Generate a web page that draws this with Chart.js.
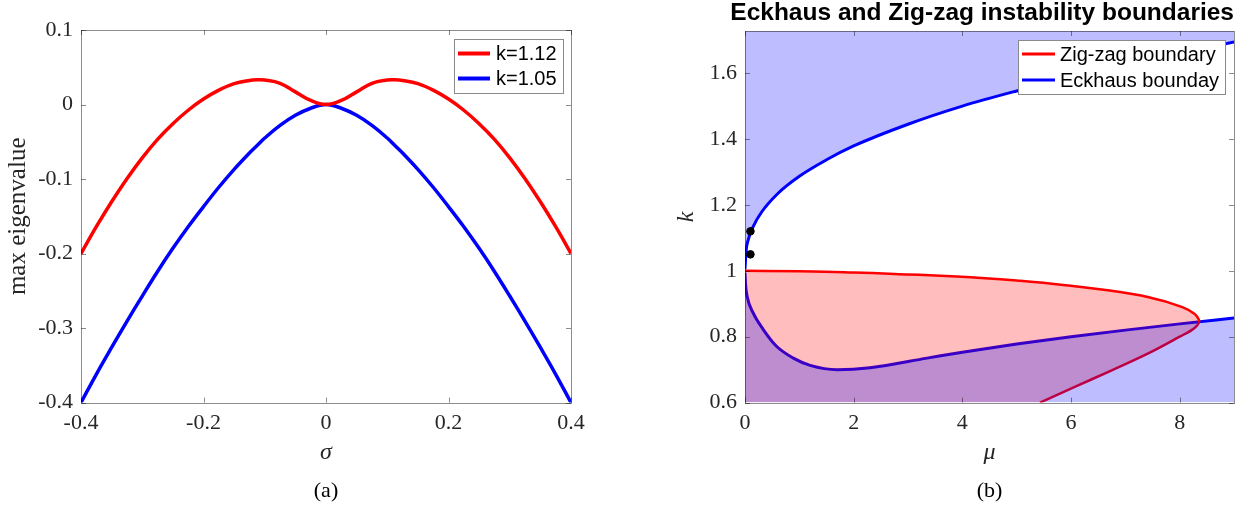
<!DOCTYPE html>
<html>
<head>
<meta charset="utf-8">
<script src="https://cdn.jsdelivr.net/npm/chart.js@4.4.1/dist/chart.umd.min.js"></script>
<style>
  html, body { margin: 0; padding: 0; background: #fff; }
  body { width: 1253px; height: 506px; position: relative; overflow: hidden; }
  .panel { position: absolute; top: 0; height: 506px; }
  #panelA { left: 0; width: 620px; }
  #panelB { left: 620px; width: 633px; }
</style>
</head>
<body>
<div class="panel" id="panelA"><canvas id="eigChart"></canvas></div>
<div class="panel" id="panelB"><canvas id="boundChart"></canvas></div>
<script>
// (a) max eigenvalue against sigma
const sigma = [-0.4, -0.375, -0.35, -0.325, -0.3, -0.275, -0.25, -0.225, -0.2, -0.175, -0.15, -0.125, -0.1125, -0.1, -0.075, -0.05, -0.025, 0,
               0.025, 0.05, 0.075, 0.1, 0.1125, 0.125, 0.15, 0.175, 0.2, 0.225, 0.25, 0.275, 0.3, 0.325, 0.35, 0.375, 0.4];
const eigK112 = [-0.200, -0.164, -0.1305, -0.0995, -0.0715, -0.0467, -0.0257, -0.0077, 0.0073, 0.0193, 0.0281, 0.0323, 0.0331, 0.0328, 0.0285, 0.017, 0.0055, 0,
                 0.0055, 0.017, 0.0285, 0.0328, 0.0331, 0.0323, 0.0281, 0.0193, 0.0073, -0.0077, -0.0257, -0.0467, -0.0715, -0.0995, -0.1305, -0.164, -0.200];
const eigK105 = [-0.400, -0.362, -0.326, -0.291, -0.257, -0.224, -0.193, -0.164, -0.137, -0.111, -0.087, -0.065, -0.055, -0.045, -0.028, -0.0145, -0.005, 0,
                 -0.005, -0.0145, -0.028, -0.045, -0.055, -0.065, -0.087, -0.111, -0.137, -0.164, -0.193, -0.224, -0.257, -0.291, -0.326, -0.362, -0.400];
const sigmaTicks = [-0.4, -0.2, 0, 0.2, 0.4];
const eigTicks = [-0.4, -0.3, -0.2, -0.1, 0, 0.1];

// (b) Eckhaus and zig-zag boundaries in the (mu, k) plane
const eckUpperMu = [0, 0.02, 0.06, 0.15, 0.3, 0.6, 1, 1.5, 2, 3, 4, 5, 6, 7, 8, 9];
const eckUpperK  = [1.005, 1.06, 1.095, 1.134, 1.177, 1.234, 1.287, 1.337, 1.379, 1.445, 1.50, 1.546, 1.588, 1.625, 1.659, 1.695];
const eckLowerMu = [0, 0.01, 0.04, 0.15, 0.34, 0.58, 0.89, 1.2, 1.7, 2.3, 3.35, 4, 5, 6, 7, 8, 9];
const eckLowerK  = [0.995, 0.96, 0.922, 0.872, 0.821, 0.771, 0.735, 0.713, 0.700, 0.706, 0.735, 0.753, 0.778, 0.800, 0.820, 0.839, 0.857];
const zigK  = [0.60, 0.65, 0.70, 0.75, 0.80, 0.82, 0.835, 0.847, 0.86, 0.87, 0.89, 0.92, 0.94, 0.955, 0.97, 0.983, 0.989, 0.995, 0.9988, 1.0];
const zigMu = [5.43, 6.1, 6.78, 7.43, 8.0, 8.22, 8.325, 8.36, 8.325, 8.27, 8.05, 7.43, 6.71, 5.99, 5.06, 3.9, 3.0, 2.0, 1.0, 0];
const markerMu = [0.1, 0.1];
const markerK  = [1.12, 1.05];
const muTicks = [0, 2, 4, 6, 8];
const kTicks = [0.6, 0.8, 1, 1.2, 1.4, 1.6];

Chart.defaults.font.family = "'Liberation Serif', 'Times New Roman', serif";
Chart.defaults.color = '#262626';

const pts = (xs, ys) => xs.map((v, i) => ({x: v, y: ys[i]}));
const fmt = v => String(Math.round(v * 100) / 100);
const useTicks = list => s => { s.ticks = list.map(v => ({value: v})); };

// axes box with inward tick marks on all four sides, like the original
const matlabBox = {
    id: 'matlabBox',
    afterDatasetsDraw(chart) {
        const {ctx, chartArea: a, scales: {x, y}} = chart;
        const tl = 5;
        ctx.save();
        ctx.strokeStyle = 'rgba(0, 0, 0, 0.45)';
        ctx.lineWidth = 1;
        ctx.beginPath();
        x.ticks.forEach(t => {
            const px = Math.round(x.getPixelForValue(t.value)) + 0.5;
            ctx.moveTo(px, a.bottom); ctx.lineTo(px, a.bottom - tl);
            ctx.moveTo(px, a.top); ctx.lineTo(px, a.top + tl);
        });
        y.ticks.forEach(t => {
            const py = Math.round(y.getPixelForValue(t.value)) + 0.5;
            ctx.moveTo(a.left, py); ctx.lineTo(a.left + tl, py);
            ctx.moveTo(a.right, py); ctx.lineTo(a.right - tl, py);
        });
        ctx.stroke();
        ctx.strokeRect(Math.round(a.left) + 0.5, Math.round(a.top) + 0.5,
            Math.round(a.right - a.left), Math.round(a.bottom - a.top));
        ctx.restore();
    }
};

// legend box drawn inside the plot area, top right
const boxLegend = {
    id: 'boxLegend',
    afterDraw(chart, args, o) {
        const items = chart.data.datasets.filter(d => d.label);
        const {ctx, chartArea: a} = chart;
        ctx.save();
        ctx.font = o.font;
        const textW = Math.max(...items.map(d => ctx.measureText(d.label).width));
        const w = o.pad + o.lineLen + o.gap + textW + 6;
        const h = items.length * o.rowH + o.padY * 2;
        const left = Math.round(a.right - o.right - w);
        const top = Math.round(a.top + o.top);
        ctx.fillStyle = '#fff';
        ctx.fillRect(left, top, w, h);
        ctx.strokeStyle = '#8a8a8a';
        ctx.lineWidth = 1;
        ctx.strokeRect(left + 0.5, top + 0.5, Math.round(w), Math.round(h));
        items.forEach((d, i) => {
            const cy = top + o.padY + o.rowH * (i + 0.5);
            ctx.strokeStyle = d.borderColor;
            ctx.lineWidth = o.lineWidth;
            ctx.beginPath();
            ctx.moveTo(left + o.pad, cy);
            ctx.lineTo(left + o.pad + o.lineLen, cy);
            ctx.stroke();
            ctx.fillStyle = '#000';
            ctx.textBaseline = 'middle';
            ctx.fillText(d.label, left + o.pad + o.lineLen + o.gap, cy + 1);
        });
        ctx.restore();
    }
};

new Chart(document.getElementById('eigChart'), {
    type: 'line',
    data: {
        datasets: [{
            label: 'k=1.12',
            data: pts(sigma, eigK112),
            borderColor: '#ff0000',
            borderWidth: 3.5,
            pointRadius: 0,
            tension: 0.4,
            fill: false
        }, {
            label: 'k=1.05',
            data: pts(sigma, eigK105),
            borderColor: '#0000ff',
            borderWidth: 3.5,
            pointRadius: 0,
            tension: 0.4,
            fill: false
        }]
    },
    options: {
        responsive: true,
        maintainAspectRatio: false,
        animation: false,
        layout: { padding: { top: 30, right: 49, left: 0, bottom: 0 } },
        plugins: {
            legend: { display: false },
            tooltip: { enabled: false },
            subtitle: {
                display: true,
                text: '(a)',
                position: 'bottom',
                fullSize: false,
                color: '#000',
                font: { size: 22, weight: 'normal' },
                padding: { top: 0, bottom: 2 }
            },
            boxLegend: { font: "20px 'Liberation Sans', Arial, sans-serif", pad: 4, padY: 2, lineLen: 32, gap: 6, rowH: 25, lineWidth: 4, right: 8, top: 9 }
        },
        scales: {
            x: {
                type: 'linear',
                min: -0.4,
                max: 0.4,
                afterBuildTicks: useTicks(sigmaTicks),
                afterFit: s => { s.height = 75; },
                grid: { display: false, drawTicks: false },
                border: { display: false },
                ticks: { padding: 7, font: { size: 22 }, callback: fmt, maxRotation: 0 },
                title: { display: true, text: 'σ', font: { size: 24, style: 'italic' }, padding: { top: 0, bottom: 11 } }
            },
            y: {
                type: 'linear',
                min: -0.4,
                max: 0.1,
                afterBuildTicks: useTicks(eigTicks),
                afterFit: s => { s.width = 81; },
                grid: { display: false, drawTicks: false },
                border: { display: false },
                ticks: { padding: 8, font: { size: 22 }, callback: fmt },
                title: { display: true, text: 'max eigenvalue', font: { size: 25 }, padding: { top: 3, bottom: 0 } }
            }
        }
    },
    plugins: [matlabBox, boxLegend]
});

new Chart(document.getElementById('boundChart'), {
    type: 'line',
    data: {
        datasets: [{
            // marked wavenumbers used in panel (a)
            data: pts(markerMu, markerK),
            showLine: false,
            pointRadius: 3.8,
            pointBackgroundColor: '#000',
            pointBorderColor: '#000',
            borderColor: '#000'
        }, {
            // Eckhaus unstable region below the lower branch
            data: pts(eckLowerMu, eckLowerK),
            borderWidth: 0,
            borderColor: 'transparent',
            pointRadius: 0,
            cubicInterpolationMode: 'monotone',
            fill: 'start',
            backgroundColor: 'rgba(0, 0, 255, 0.26)'
        }, {
            // Eckhaus unstable region above the upper branch
            data: pts(eckUpperMu, eckUpperK),
            borderWidth: 0,
            borderColor: 'transparent',
            pointRadius: 0,
            cubicInterpolationMode: 'monotone',
            fill: 'end',
            backgroundColor: 'rgba(0, 0, 255, 0.26)'
        }, {
            // zig-zag unstable region, filled across to mu = 0
            indexAxis: 'y',
            data: pts(zigMu, zigK),
            borderWidth: 0,
            borderColor: 'transparent',
            pointRadius: 0,
            cubicInterpolationMode: 'monotone',
            fill: { value: 0 },
            backgroundColor: 'rgba(255, 0, 0, 0.26)'
        }, {
            label: 'Zig-zag boundary',
            indexAxis: 'y',
            data: pts(zigMu, zigK),
            borderColor: '#ff0000',
            borderWidth: 2.5,
            pointRadius: 0,
            cubicInterpolationMode: 'monotone',
            fill: false
        }, {
            label: 'Eckhaus bounday',
            data: pts(eckLowerMu, eckLowerK),
            borderColor: '#0000ff',
            borderWidth: 3,
            pointRadius: 0,
            cubicInterpolationMode: 'monotone',
            fill: false
        }, {
            data: pts(eckUpperMu, eckUpperK),
            borderColor: '#0000ff',
            borderWidth: 3,
            pointRadius: 0,
            cubicInterpolationMode: 'monotone',
            fill: false
        }]
    },
    options: {
        responsive: true,
        maintainAspectRatio: false,
        animation: false,
        layout: { padding: { top: 0, right: 19, left: 0, bottom: 0 } },
        plugins: {
            legend: { display: false },
            tooltip: { enabled: false },
            title: {
                display: true,
                text: 'Eckhaus and Zig-zag instability boundaries',
                fullSize: true,
                align: 'end',
                color: '#000',
                font: { family: "'Liberation Sans', Arial, sans-serif", size: 24.5, weight: 'bold', lineHeight: 1.0 },
                padding: { top: 1, bottom: 5.5 }
            },
            subtitle: {
                display: true,
                text: '(b)',
                position: 'bottom',
                fullSize: false,
                color: '#000',
                font: { size: 22, weight: 'normal' },
                padding: { top: 0, bottom: 2 }
            },
            boxLegend: { font: "20px 'Liberation Sans', Arial, sans-serif", pad: 4, padY: 1, lineLen: 33, gap: 5, rowH: 26, lineWidth: 3, right: 9, top: 9 }
        },
        scales: {
            x: {
                type: 'linear',
                min: 0,
                max: 9,
                afterBuildTicks: useTicks(muTicks),
                afterFit: s => { s.height = 75; },
                grid: { display: false, drawTicks: false },
                border: { display: false },
                ticks: { padding: 7, font: { size: 22 }, callback: fmt, maxRotation: 0 },
                title: { display: true, text: 'μ', font: { size: 24, style: 'italic' }, padding: { top: 0, bottom: 11 } }
            },
            y: {
                type: 'linear',
                min: 0.6,
                max: 1.728,
                afterBuildTicks: useTicks(kTicks),
                afterFit: s => { s.width = 125; },
                grid: { display: false, drawTicks: false },
                border: { display: false },
                ticks: { padding: 8, font: { size: 22 }, callback: fmt },
                title: { display: true, text: 'k', font: { size: 24, style: 'italic' }, padding: { top: 52, bottom: 0 } }
            }
        }
    },
    plugins: [matlabBox, boxLegend]
});
</script>
</body>
</html>
